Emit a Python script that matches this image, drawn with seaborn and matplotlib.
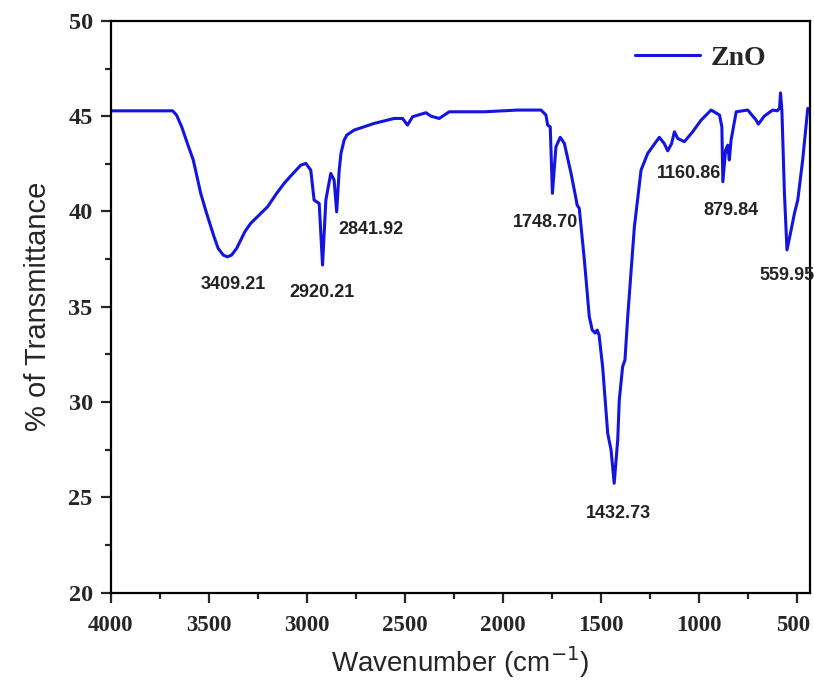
import matplotlib
matplotlib.use("Agg")
import matplotlib.pyplot as plt
import matplotlib.transforms as mtransforms
import seaborn as sns
import pandas as pd
from matplotlib.ticker import MultipleLocator

# ---- data ----
wavenumber = [4000, 3684, 3664, 3638, 3609, 3579, 3541, 3511, 3473, 3452,
              3426, 3405, 3384, 3358, 3337, 3316, 3286, 3200, 3154, 3116,
              3086, 3031, 3005, 2980, 2963, 2937, 2920, 2903, 2878, 2861,
              2848, 2835, 2826, 2810, 2796, 2759, 2657, 2555, 2512, 2487,
              2461, 2393, 2367, 2325, 2274, 2095, 1925, 1806, 1781, 1772,
              1759, 1748, 1730, 1708, 1687, 1653, 1633, 1622, 1611, 1585,
              1560, 1545, 1530, 1520, 1510, 1492, 1466, 1449, 1433, 1415,
              1407, 1390, 1378, 1364, 1330, 1296, 1262, 1203, 1178, 1160,
              1140, 1126, 1109, 1075, 1033, 990, 939, 896, 884, 879,
              865, 854, 846, 837, 811, 752, 709, 698, 668, 625,
              602, 590, 585, 578, 565, 552, 531, 514, 497, 472,
              446]
transmittance = [45.28, 45.28, 45.05, 44.44, 43.57, 42.70, 40.95, 39.90, 38.67, 38.06,
                 37.71, 37.62, 37.71, 38.06, 38.50, 38.94, 39.38, 40.25, 40.95, 41.47,
                 41.82, 42.43, 42.52, 42.17, 40.60, 40.42, 37.19, 40.60, 42.00, 41.65,
                 39.98, 42.17, 43.05, 43.74, 44.01, 44.27, 44.62, 44.88, 44.88, 44.53,
                 44.97, 45.18, 45.00, 44.88, 45.23, 45.23, 45.32, 45.32, 45.06, 44.53,
                 44.44, 40.95, 43.39, 43.89, 43.57, 42.00, 40.95, 40.34, 40.16, 37.45,
                 34.48, 33.78, 33.62, 33.78, 33.52, 31.86, 28.36, 27.49, 25.74, 28.01,
                 30.11, 31.86, 32.21, 34.48, 39.20, 42.17, 43.05, 43.89, 43.57, 43.18,
                 43.57, 44.18, 43.83, 43.66, 44.18, 44.79, 45.32, 45.06, 44.44, 41.56,
                 43.22, 43.48, 42.70, 43.74, 45.23, 45.32, 44.79, 44.58, 45.00, 45.32,
                 45.28, 45.42, 46.22, 45.32, 40.95, 37.98, 39.02, 39.90, 40.60, 42.70,
                 45.41]

peak_labels = ["3409.21", "2920.21", "2841.92", "1748.70", "1160.86",
               "879.84", "559.95", "1432.73"]
label_x = [3375, 2925, 2673, 1782, 1054, 838, 552, 1411]
label_y = [36.18, 35.75, 39.04, 39.43, 41.99, 40.03, 36.62, 24.14]

x_ticks = [4000, 3500, 3000, 2500, 2000, 1500, 1000, 500]
y_ticks = [20, 25, 30, 35, 40, 45, 50]

sns.set_style("ticks")
plt.rcParams["font.family"] = ["Liberation Serif", "DejaVu Serif"]

df = pd.DataFrame({"Wavenumber": wavenumber, "Transmittance": transmittance,
                   "Sample": "ZnO"})

fig = plt.figure(figsize=(8.14, 6.84), dpi=100)
ax = fig.add_axes([0.136, 0.1335, 0.859, 0.836])

sns.lineplot(data=df, x="Wavenumber", y="Transmittance", hue="Sample",
             palette=["#1414e0"], linewidth=2.2, ax=ax, legend=True,
             solid_joinstyle="round")

ax.set_xlim(4000, 435)
ax.set_ylim(20, 50)
ax.set_xticks(x_ticks)
ax.set_yticks(y_ticks)
ax.xaxis.set_minor_locator(MultipleLocator(250))
ax.yaxis.set_minor_locator(MultipleLocator(2.5))

for s in ax.spines.values():
    s.set_linewidth(1.6)
    s.set_color("black")
    s.set_visible(True)

ax.tick_params(axis="both", which="major", direction="out", length=7, width=1.6,
               top=False, right=False)
ax.tick_params(axis="x", which="major", pad=9, labelsize=16.5)
ax.tick_params(axis="y", which="major", pad=6, labelsize=17.5)
ax.tick_params(axis="both", which="minor", direction="out", length=4, width=1.6,
               top=False, right=False)
for lab in ax.get_xticklabels() + ax.get_yticklabels():
    lab.set_fontweight("bold")

# nudge the last x tick label so it stays inside the canvas
last = ax.get_xticklabels()[-1]
last.set_transform(last.get_transform() +
                   mtransforms.ScaledTranslation(-3 / 72, 0, fig.dpi_scale_trans))

ax.set_xlabel("Wavenumber (cm$^{-1}$)", fontsize=20, family="Liberation Sans",
              labelpad=6)
ax.set_ylabel("% of Transmittance", fontsize=21, family="Liberation Sans",
              labelpad=12)

for t, lx, ly in zip(peak_labels, label_x, label_y):
    ax.text(lx, ly, t, ha="center", va="center", fontsize=13,
            fontweight="bold", family="Liberation Sans", color="#222222")

leg = ax.legend(loc="upper right", frameon=False, handlelength=2.35,
                prop={"family": "Liberation Serif", "weight": "bold", "size": 20},
                bbox_to_anchor=(0.954, 0.977), borderaxespad=0,
                handletextpad=0.4)

fig.savefig("out.png", dpi=100)
